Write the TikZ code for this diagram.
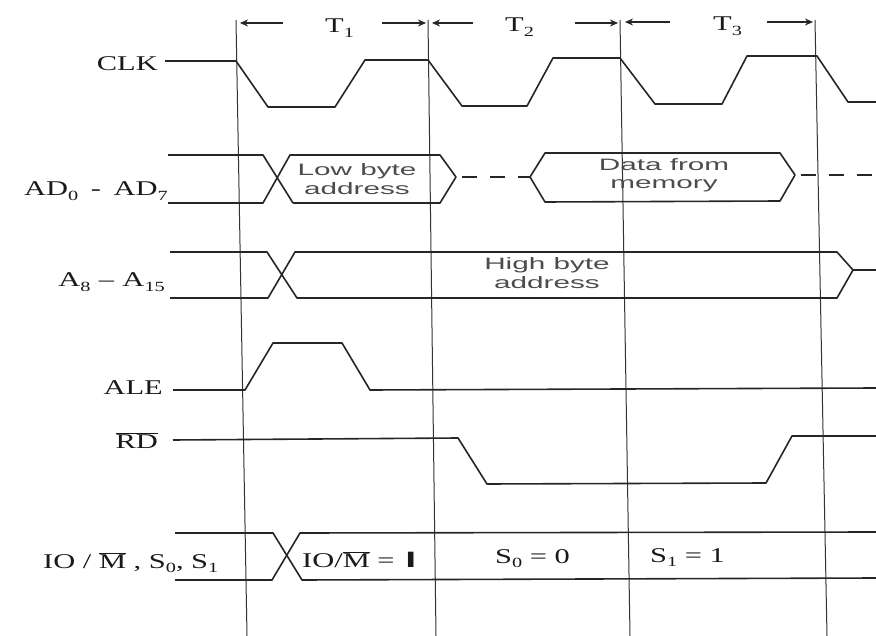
\documentclass[tikz,border=0pt]{standalone}
\usepackage{fontspec}
\setmainfont{Liberation Serif}
\newfontfamily\lab{Liberation Serif}[FakeStretch=1.45, Ligatures=TeX]
\newfontfamily\bx{Liberation Sans}[FakeStretch=1.8]
\newfontfamily\heavyfont{DejaVu Sans}[FakeStretch=1.4]
\usetikzlibrary{arrows.meta}
\newcommand\sbs[1]{\raisebox{-0.45ex}{\fontsize{14}{14}\selectfont #1}}
\newcommand\ovl[1]{\ensuremath{\overline{\hbox{#1}}}}
\tikzset{
  lbl/.style={font=\lab\fontsize{21}{24}\selectfont, text=black!90, inner sep=0pt},
  btxt/.style={font=\bx\fontsize{16.5}{18.5}\selectfont, text=black!70, align=center, inner sep=0pt},
  sig/.style={line width=1.6pt, draw=black!85, line join=round},
  gridline/.style={line width=1pt, draw=black!80},
  tarrow/.style={-{Stealth[length=8pt,width=7pt]}, line width=1.2pt, draw=black!85},
  dsh/.style={sig, dash pattern=on 15pt off 13pt}
}
\begin{document}
\begin{tikzpicture}[x=1pt,y=-1pt]
\useasboundingbox (0,0) rectangle (876,636);
% vertical timing lines
\coordinate (v1t) at (236,20); \coordinate (v1b) at (247,636);
\coordinate (v2t) at (428,20); \coordinate (v2b) at (436,636);
\coordinate (v3t) at (620,20); \coordinate (v3b) at (630,636);
\coordinate (v4t) at (815,20); \coordinate (v4b) at (827,636);
\draw[gridline] (v1t) -- (v1b);
\draw[gridline] (v2t) -- (v2b);
\draw[gridline] (v3t) -- (v3b);
\draw[gridline] (v4t) -- (v4b);
% T labels and arrows
\node[lbl, anchor=base west] (t1) at (325,33) {T\sbs{1}};
\node[lbl, anchor=base west] (t2) at (505,32) {T\sbs{2}};
\node[lbl, anchor=base west] (t3) at (713,31) {T\sbs{3}};
\coordinate (a1a) at (283,23); \coordinate (a1b) at (240,23);
\coordinate (a1c) at (382,23); \coordinate (a1d) at (426,23);
\coordinate (a2a) at (473,23); \coordinate (a2b) at (432,23);
\coordinate (a2c) at (575,23); \coordinate (a2d) at (618,23);
\coordinate (a3a) at (670,22); \coordinate (a3b) at (625,22);
\coordinate (a3c) at (767,22); \coordinate (a3d) at (813,22);
\draw[tarrow] (a1a) -- (a1b);
\draw[tarrow] (a1c) -- (a1d);
\draw[tarrow] (a2a) -- (a2b);
\draw[tarrow] (a2c) -- (a2d);
\draw[tarrow] (a3a) -- (a3b);
\draw[tarrow] (a3c) -- (a3d);
% signal labels
\node[lbl, anchor=base east] (clk) at (158,71) {CLK};
\node[lbl, anchor=base east] (ad) at (168,196) {AD\sbs{0}\hspace{0.6em}-\hspace{0.6em}AD\sbs{7}};
\node[lbl, anchor=base east] (ahi) at (165,287) {A\sbs{8}\hspace{0.4em}–\hspace{0.4em}A\sbs{15}};
\node[lbl, anchor=base east] (ale) at (163,395) {ALE};
\node[lbl, anchor=base east] (rd) at (158,448) {\ovl{RD}};
\node[lbl, anchor=base west] (iom) at (43,568) {IO / \ovl{M} , S\sbs{0}, S\sbs{1}};
% CLK
\draw[sig] (165,61) -- (236,61) -- (268,107) -- (335,107) -- (365,60) -- (428,60)
  -- (462,106) -- (527,106) -- (553,58) -- (620,58) -- (655,104) -- (722,104)
  -- (747,56) -- (817,56) -- (848,102) -- (876,102);
% AD0-AD7
\draw[sig] (168,155) -- (263,155) -- (293,203);
\draw[sig] (168,203) -- (263,203) -- (290,155) -- (440,155) -- (456,177) -- (440,203) -- (293,203);
\draw[dsh] (462,177) -- (530,177);
\draw[sig] (530,177) -- (545,153) -- (780,153) -- (795,175) -- (780,201) -- (545,202) -- cycle;
\draw[dsh] (801,175) -- (876,175);
\node[btxt] (lowb) at (357,179) {Low byte\\address};
\node[btxt] (dmem) at (664,175) {Data from\\memory};
% A8-A15
\draw[sig] (170,252) -- (267,252) -- (297,298) -- (837,298) -- (853,270) -- (837,252) -- (295,252) -- (268,298) -- (170,298);
\draw[sig] (853,270) -- (876,270);
\node[btxt] (highb) at (547,273) {High byte\\address};
% ALE
\draw[sig] (173,390) -- (245,390) -- (273,343) -- (342,343) -- (370,390) -- (876,388);
% RD
\draw[sig] (173,440) -- (458,438) -- (487,484) -- (766,483) -- (792,436) -- (876,436);
% IO/M, S0, S1
\draw[sig] (175,533) -- (273,533) -- (302,580) -- (876,578);
\draw[sig] (175,580) -- (272,580) -- (300,533) -- (876,532);
\node[lbl, anchor=base west] (iov) at (302,567) {IO/\ovl{M} = \hspace{0.15em}{\heavyfont\bfseries I}};
\node[lbl, anchor=base west] (s0) at (495,563) {S\sbs{0} = 0};
\node[lbl, anchor=base west] (s1) at (650,562) {S\sbs{1} = 1};
\end{tikzpicture}
\end{document}
